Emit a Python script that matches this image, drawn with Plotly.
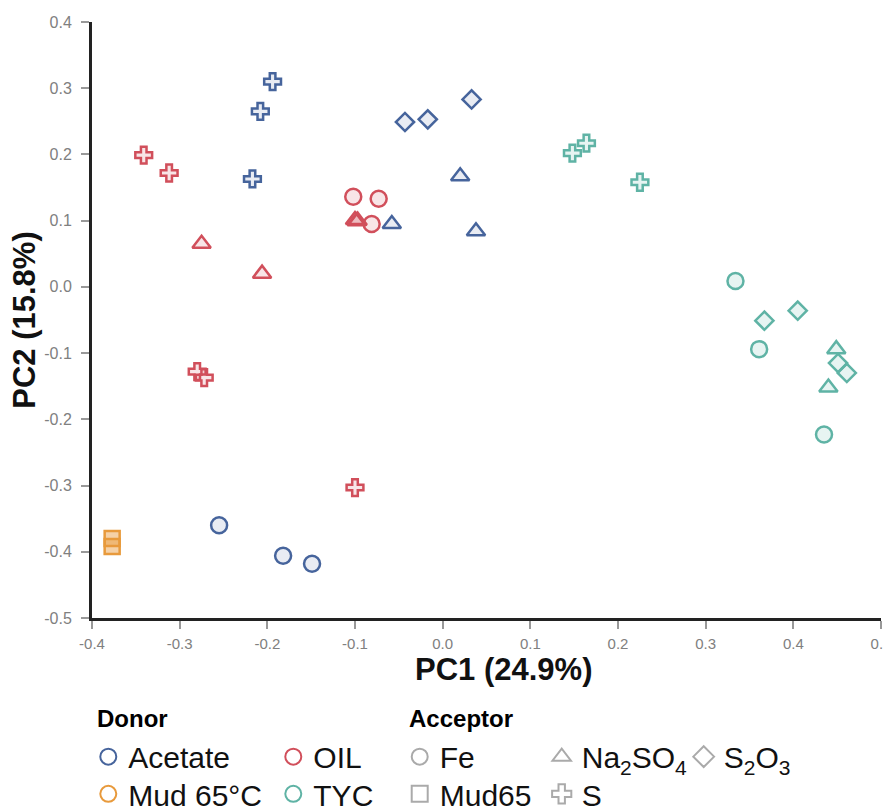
import plotly.graph_objects as go

# ---- data (PC1, PC2) per donor / acceptor group ----
acetate_S_x = [-0.194, -0.208, -0.217]
acetate_S_y = [0.310, 0.265, 0.163]
acetate_S2O3_x = [-0.043, -0.017, 0.033]
acetate_S2O3_y = [0.249, 0.253, 0.283]
acetate_Na2SO4_x = [0.020, 0.038, -0.058]
acetate_Na2SO4_y = [0.167, 0.084, 0.095]
acetate_Fe_x = [-0.255, -0.182, -0.149]
acetate_Fe_y = [-0.360, -0.406, -0.418]

oil_S_x = [-0.341, -0.312, -0.280, -0.272, -0.100]
oil_S_y = [0.199, 0.172, -0.128, -0.137, -0.303]
oil_Na2SO4_x = [-0.275, -0.206, -0.100, -0.098, -0.097]
oil_Na2SO4_y = [0.065, 0.020, 0.101, 0.099, 0.100]
oil_Fe_x = [-0.102, -0.073, -0.081]
oil_Fe_y = [0.136, 0.133, 0.095]

mud_Mud65_x = [-0.377, -0.377]
mud_Mud65_y = [-0.380, -0.392]

tyc_S_x = [0.148, 0.164, 0.225]
tyc_S_y = [0.202, 0.217, 0.158]
tyc_Fe_x = [0.334, 0.361, 0.435]
tyc_Fe_y = [0.009, -0.094, -0.223]
tyc_S2O3_x = [0.367, 0.405, 0.451, 0.461]
tyc_S2O3_y = [-0.051, -0.036, -0.115, -0.130]
tyc_Na2SO4_x = [0.449, 0.440]
tyc_Na2SO4_y = [-0.094, -0.152]

donors = ["Acetate", "OIL", "Mud 65°C", "TYC"]
acceptors = ["Fe", "Na<sub>2</sub>SO<sub>4</sub>", "S<sub>2</sub>O<sub>3</sub>", "Mud65", "S"]

x_ticks = [-0.4, -0.3, -0.2, -0.1, 0.0, 0.1, 0.2, 0.3, 0.4, 0.5]
y_ticks = [-0.5, -0.4, -0.3, -0.2, -0.1, 0.0, 0.1, 0.2, 0.3, 0.4]

# ---- styles ----
donor_colors = {"Acetate": "#46649c", "OIL": "#d14f5b", "Mud 65°C": "#e89a3c", "TYC": "#5fb3a5"}
donor_fill = {"Acetate": "rgba(70,100,156,0.12)", "OIL": "rgba(209,79,91,0.15)",
              "Mud 65°C": "rgba(232,154,60,0.45)", "TYC": "rgba(95,179,165,0.15)"}
acc_symbol = {"Fe": "circle", "Na2SO4": "triangle-up", "S2O3": "diamond", "Mud65": "square", "S": "cross"}
acc_size = {"Fe": 16, "Na2SO4": 16, "S2O3": 14, "Mud65": 15, "S": 14}

groups = [
    ("Acetate", "S", acetate_S_x, acetate_S_y),
    ("Acetate", "S2O3", acetate_S2O3_x, acetate_S2O3_y),
    ("Acetate", "Na2SO4", acetate_Na2SO4_x, acetate_Na2SO4_y),
    ("Acetate", "Fe", acetate_Fe_x, acetate_Fe_y),
    ("OIL", "S", oil_S_x, oil_S_y),
    ("OIL", "Na2SO4", oil_Na2SO4_x, oil_Na2SO4_y),
    ("OIL", "Fe", oil_Fe_x, oil_Fe_y),
    ("Mud 65°C", "Mud65", mud_Mud65_x, mud_Mud65_y),
    ("TYC", "S", tyc_S_x, tyc_S_y),
    ("TYC", "Fe", tyc_Fe_x, tyc_Fe_y),
    ("TYC", "S2O3", tyc_S2O3_x, tyc_S2O3_y),
    ("TYC", "Na2SO4", tyc_Na2SO4_x, tyc_Na2SO4_y),
]

FONT = "Liberation Sans, Arial, sans-serif"
fig = go.Figure()

for donor, acc, xs, ys in groups:
    fig.add_trace(go.Scatter(
        x=xs, y=ys, mode="markers", showlegend=False,
        marker=dict(symbol=acc_symbol[acc], size=acc_size[acc], color=donor_fill[donor],
                    line=dict(color=donor_colors[donor], width=2.5)),
    ))

# ---- legend entries ----
donor_legend = {"Acetate": "legend", "OIL": "legend", "Mud 65°C": "legend2", "TYC": "legend2"}
for d in donors:
    fig.add_trace(go.Scatter(
        x=[None], y=[None], mode="markers", name=d, legend=donor_legend[d],
        marker=dict(symbol="circle", size=16, color="rgba(0,0,0,0)",
                    line=dict(color=donor_colors[d], width=2)),
    ))

acc_keys = ["Fe", "Na2SO4", "S2O3", "Mud65", "S"]
acc_legend = {"Fe": "legend3", "Na2SO4": "legend3", "S2O3": "legend3", "Mud65": "legend4", "S": "legend4"}
for key, label in zip(acc_keys, acceptors):
    fig.add_trace(go.Scatter(
        x=[None], y=[None], mode="markers", name=label, legend=acc_legend[key],
        marker=dict(symbol=acc_symbol[key], size=16, color="rgba(0,0,0,0)",
                    line=dict(color="#aaaaaa", width=2)),
    ))

item_font = dict(family=FONT, size=30, color="#111111")
title_font = dict(family=FONT, size=24, color="#000000", weight="bold")
axis_title_font = dict(family=FONT, size=31, color="#111111", weight="bold")

def leg(x, y, entrywidth):
    return dict(orientation="h", x=x, y=y, xanchor="left", yanchor="top",
                entrywidth=entrywidth, entrywidthmode="pixels", font=item_font,
                bgcolor="rgba(0,0,0,0)", itemclick=False, itemdoubleclick=False,
                tracegroupgap=0)

fig.update_layout(
    width=883, height=807,
    margin=dict(l=92, r=2, t=22, b=189, autoexpand=False),
    plot_bgcolor="white", paper_bgcolor="white",
    font=dict(family=FONT),
    xaxis=dict(
        range=[-0.4, 0.5], tickvals=x_ticks, ticktext=[f"{v:.1f}" for v in x_ticks],
        showgrid=False, zeroline=False, showline=True, linecolor="#222222", linewidth=3,
        ticks="outside", ticklen=8, tickwidth=2, tickcolor="#999999",
        tickfont=dict(family=FONT, size=15, color="#808080"), ticklabelstandoff=2,
        ticklabeloverflow="allow", automargin=False,
    ),
    yaxis=dict(
        range=[-0.5, 0.4], tickvals=y_ticks, ticktext=[f"{v:.1f}" for v in y_ticks],
        showgrid=False, zeroline=False, showline=True, linecolor="#222222", linewidth=3,
        ticks="outside", ticklen=8, tickwidth=2, tickcolor="#999999",
        tickfont=dict(family=FONT, size=16, color="#808080"), ticklabelstandoff=6,
        ticklabeloverflow="allow",
        title=dict(text="PC2 (15.8%)", font=axis_title_font, standoff=0),
        automargin=False,
    ),
    legend=leg(-0.0047, -0.189, 140),
    legend2=leg(-0.0047, -0.2514, 140),
    legend3=leg(0.390, -0.189, 97),
    legend4=leg(0.390, -0.2514, 97),
    annotations=[
        dict(text="PC1 (24.9%)", xref="paper", yref="paper", x=0.522, y=-0.0856,
             xanchor="center", yanchor="middle", showarrow=False, font=axis_title_font),
        dict(text="Donor", xref="paper", yref="paper", x=0.0038, y=-0.1678,
             xanchor="left", yanchor="middle", showarrow=False, font=title_font),
        dict(text="Acceptor", xref="paper", yref="paper", x=0.399, y=-0.1678,
             xanchor="left", yanchor="middle", showarrow=False, font=title_font),
    ],
)

fig.write_html("out.html", config={"displayModeBar": False},
               post_script="document.body.style.margin='0';document.body.style.overflow='hidden';")
